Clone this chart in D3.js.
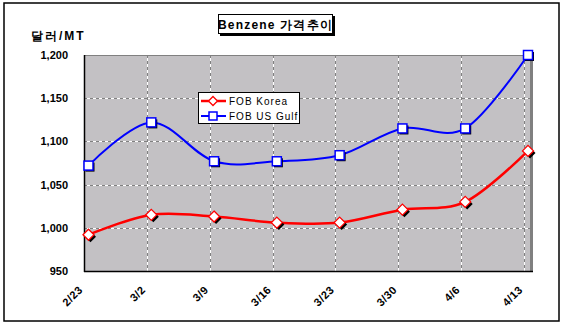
<!DOCTYPE html>
<html><head>
<meta charset="utf-8">
<script src="https://d3js.org/d3.v7.min.js"></script>
<style>
body { margin: 0; background: #fff; }
svg text { font-family: "Liberation Sans", Arial, sans-serif; font-weight: bold; fill: #000; }
</style>
</head><body>
<svg id="chart" width="565" height="328"></svg>
<script>
var categories = ["2/23", "3/2", "3/9", "3/16", "3/23", "3/30", "4/6", "4/13"];
var fobKorea = [992, 1015, 1013, 1006, 1006, 1021, 1030, 1089];
var fobUSGulf = [1072, 1122, 1077, 1077, 1084, 1115, 1115, 1200];
var yTicks = [950, 1000, 1050, 1100, 1150, 1200];
var seriesNames = ["FOB Korea", "FOB US Gulf"];

var pLeft = 84, pRight = 530, pTop = 55, pBottom = 271;

var svg = d3.select("#chart");

// outer frame
svg.append("rect")
    .attr("x", 4).attr("y", 3).attr("width", 555).attr("height", 318)
    .attr("fill", "#fff").attr("stroke", "#000").attr("stroke-width", 1.5);

// grid positions and marker positions (markers sit a few px right of the grid)
var x = d3.scalePoint().domain(categories).range([pLeft, 524]);
var xm = d3.scalePoint().domain(categories).range([88.5, 528]);
var y = d3.scaleLinear().domain([950, 1200]).range([pBottom, pTop]);

// plot area
svg.append("rect")
    .attr("x", pLeft).attr("y", pTop).attr("width", pRight - pLeft).attr("height", pBottom - pTop)
    .attr("fill", "#c3c1c4");
svg.append("rect")
    .attr("x", pRight).attr("y", pTop + 1).attr("width", 3).attr("height", pBottom - pTop - 1)
    .attr("fill", "#808080");
svg.append("line")
    .attr("x1", pLeft).attr("x2", pRight).attr("y1", pTop + 0.5).attr("y2", pTop + 0.5)
    .attr("stroke", "#808080");

// gridlines: white with gray dashes
var grid = svg.append("g");
var hy = yTicks.slice(1, -1);
[["#fff", null], ["#808080", "3,3"]].forEach(function(s) {
    grid.selectAll(null).data(hy).enter().append("line")
        .attr("x1", pLeft).attr("x2", pRight)
        .attr("y1", function(d) { return Math.round(y(d)) + 0.5; })
        .attr("y2", function(d) { return Math.round(y(d)) + 0.5; })
        .attr("stroke", s[0]).attr("stroke-dasharray", s[1]);
    grid.selectAll(null).data(categories.slice(1)).enter().append("line")
        .attr("y1", pTop).attr("y2", pBottom)
        .attr("x1", function(d) { return Math.round(x(d)) + 0.5; })
        .attr("x2", function(d) { return Math.round(x(d)) + 0.5; })
        .attr("stroke", s[0]).attr("stroke-dasharray", s[1]);
});

// axis lines
svg.append("line").attr("x1", pLeft + 0.5).attr("x2", pLeft + 0.5).attr("y1", pTop).attr("y2", pBottom + 1)
    .attr("stroke", "#000").attr("stroke-width", 1.5);
svg.append("line").attr("x1", pLeft).attr("x2", pRight + 3).attr("y1", pBottom + 0.5).attr("y2", pBottom + 0.5)
    .attr("stroke", "#000").attr("stroke-width", 1.5);

// y axis labels
var yAxis = svg.append("g")
    .attr("transform", "translate(" + pLeft + ",0)")
    .call(d3.axisLeft(y).tickValues(yTicks).tickFormat(d3.format(",")).tickSize(0).tickPadding(16));
yAxis.select(".domain").remove();
yAxis.selectAll("text").style("font-size", "11px").style("font-family", "'Liberation Sans', Arial, sans-serif")
    .style("font-weight", "bold").attr("fill", "#000");

// x labels, rotated
svg.append("g").selectAll("text").data(categories).enter().append("text")
    .attr("transform", function(d) { return "translate(" + (x(d) - 6) + ",285) rotate(-45)"; })
    .attr("text-anchor", "end")
    .attr("dy", "0.7em")
    .style("font-size", "11px")
    .style("letter-spacing", "0.5px")
    .text(function(d) { return d; });

// series
var line = d3.line()
    .x(function(d, i) { return xm(categories[i]); })
    .y(function(d) { return y(d); })
    .curve(d3.curveCatmullRom.alpha(0));

svg.append("path").datum(fobUSGulf).attr("d", line)
    .attr("fill", "none").attr("stroke", "#0000ff").attr("stroke-width", 2);
svg.append("path").datum(fobKorea).attr("d", line)
    .attr("fill", "none").attr("stroke", "#ff0000").attr("stroke-width", 2.5);

function square(g, cx, cy) {
    g.append("rect").attr("x", cx - 3).attr("y", cy - 3).attr("width", 9).attr("height", 9).attr("fill", "#000");
    g.append("rect").attr("x", cx - 4.5).attr("y", cy - 4.5).attr("width", 9).attr("height", 9)
        .attr("fill", "#fff").attr("stroke", "#0000ff").attr("stroke-width", 1.5);
}
function diamond(g, cx, cy) {
    var r = 5.5;
    var p = function(ox, oy) {
        return [[cx + ox, cy + oy - r], [cx + ox + r, cy + oy], [cx + ox, cy + oy + r], [cx + ox - r, cy + oy]].join(" ");
    };
    g.append("polygon").attr("points", p(2, 2)).attr("fill", "#000");
    g.append("polygon").attr("points", p(0, 0)).attr("fill", "#fff").attr("stroke", "#ff0000").attr("stroke-width", 1.3);
}

var marks = svg.append("g");
fobUSGulf.forEach(function(v, i) { square(marks, xm(categories[i]), y(v)); });
fobKorea.forEach(function(v, i) { diamond(marks, xm(categories[i]), y(v)); });

// legend
var lg = svg.append("g");
lg.append("rect").attr("x", 198.5).attr("y", 92.5).attr("width", 101).attr("height", 31)
    .attr("fill", "#fff").attr("stroke", "#000");
[[fobKorea, "#ff0000", diamond, 101], [fobUSGulf, "#0000ff", square, 116]].forEach(function(s, i) {
    lg.append("line").attr("x1", 201).attr("x2", 226).attr("y1", s[3]).attr("y2", s[3])
        .attr("stroke", s[1]).attr("stroke-width", i === 0 ? 2.5 : 2);
    if (i === 0) {
        var r = 4.5, cx = 213, cy = s[3];
        lg.append("polygon").attr("points", [[cx, cy - r], [cx + r, cy], [cx, cy + r], [cx - r, cy]].join(" "))
            .attr("fill", "#fff").attr("stroke", "#ff0000").attr("stroke-width", 1.3);
    } else {
        lg.append("rect").attr("x", 209).attr("y", s[3] - 4).attr("width", 8).attr("height", 8)
            .attr("fill", "#fff").attr("stroke", "#0000ff").attr("stroke-width", 1.5);
    }
    lg.append("text").attr("x", 229).attr("y", s[3] + 4)
        .style("font-size", "10px").style("font-weight", "normal").style("letter-spacing", "1px")
        .text(seriesNames[i]);
});

// title box
var tb = svg.append("g");
tb.append("rect").attr("x", 220).attr("y", 16).attr("width", 115).attr("height", 20).attr("fill", "#000");
tb.append("rect").attr("x", 218.5).attr("y", 14.5).attr("width", 114).attr("height", 19)
    .attr("fill", "#fff").attr("stroke", "#000");
tb.append("text").attr("x", 275.5).attr("y", 29).attr("text-anchor", "middle")
    .style("font-size", "12px").style("letter-spacing", "1.2px")
    .text("Benzene 가격추이");

// y axis title
svg.append("text").attr("x", 31).attr("y", 40)
    .style("font-size", "12px").style("letter-spacing", "2px")
    .text("달러/MT");
</script>
</body></html>
